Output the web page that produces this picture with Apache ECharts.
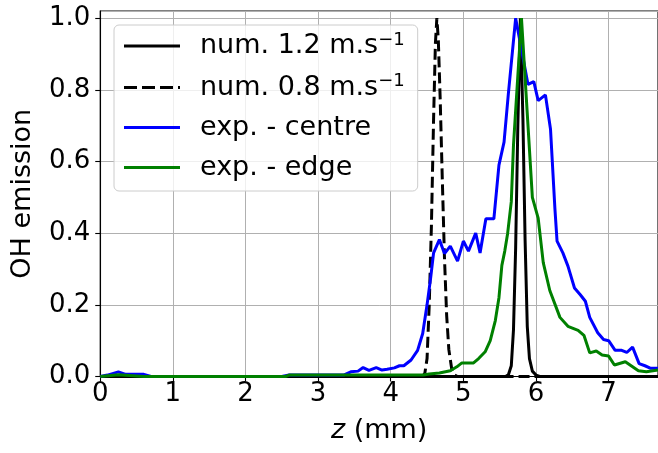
<!DOCTYPE html>
<html>
<head>
<meta charset="utf-8">
<script src="https://cdn.jsdelivr.net/npm/echarts@6/dist/echarts.min.js"></script>
<style>
html,body{margin:0;padding:0;background:#fff;}
#chart{width:658px;height:453px;}
</style>
</head>
<body>
<div id="chart"></div>
<script>
// ---- data ----
const xTicks = [0, 1, 2, 3, 4, 5, 6, 7];
const yTicks = [0.0, 0.2, 0.4, 0.6, 0.8, 1.0];

const num12Z = [0, 5.58, 5.62, 5.66, 5.69, 5.72, 5.75, 5.785, 5.82, 5.85, 5.88, 5.91, 5.95, 6.0, 6.05, 7.68];
const num12V = [0, 0, 0.005, 0.03, 0.13, 0.36, 0.7, 1.0, 0.72, 0.38, 0.14, 0.05, 0.015, 0.004, 0, 0];

const num08Z = [0, 4.44, 4.47, 4.5, 4.53, 4.56, 4.59, 4.615, 4.635, 4.655, 4.68, 4.71, 4.74, 4.77, 4.8, 4.84, 4.88, 4.92, 7.68];
const num08V = [0, 0, 0.01, 0.05, 0.2, 0.42, 0.72, 0.93, 1.0, 0.94, 0.78, 0.55, 0.33, 0.17, 0.075, 0.02, 0.004, 0, 0];

const centreZ = [0, 0.1, 0.25, 0.35, 0.5, 0.6, 0.7, 2.5, 2.6, 3.0, 3.35, 3.45, 3.55, 3.62, 3.7, 3.8, 3.88, 3.95, 4.05, 4.12, 4.18, 4.28, 4.37, 4.44, 4.5, 4.55, 4.59, 4.67, 4.74, 4.82, 4.92, 5.0, 5.07, 5.17, 5.23, 5.31, 5.42, 5.49, 5.56, 5.62, 5.72, 5.89, 5.97, 6.03, 6.13, 6.2, 6.26, 6.29, 6.37, 6.44, 6.53, 6.61, 6.68, 6.74, 6.85, 6.93, 7.0, 7.09, 7.18, 7.25, 7.33, 7.42, 7.5, 7.58, 7.68];
const centreV = [0, 0.004, 0.013, 0.006, 0.006, 0.006, 0, 0, 0.004, 0.004, 0.004, 0.013, 0.015, 0.025, 0.017, 0.025, 0.018, 0.02, 0.024, 0.03, 0.03, 0.046, 0.073, 0.12, 0.2, 0.276, 0.345, 0.382, 0.343, 0.364, 0.322, 0.378, 0.35, 0.4, 0.345, 0.44, 0.44, 0.59, 0.654, 0.79, 1.0, 0.815, 0.823, 0.77, 0.786, 0.69, 0.47, 0.378, 0.345, 0.308, 0.247, 0.228, 0.21, 0.165, 0.122, 0.103, 0.1, 0.073, 0.073, 0.067, 0.082, 0.036, 0.03, 0.023, 0.023];

const edgeZ = [0, 0.25, 0.6, 2.55, 2.6, 4.45, 4.53, 4.67, 4.82, 4.91, 4.98, 5.14, 5.21, 5.3, 5.37, 5.44, 5.49, 5.53, 5.57, 5.61, 5.66, 5.69, 5.8, 5.95, 6.03, 6.1, 6.19, 6.33, 6.44, 6.58, 6.66, 6.74, 6.83, 6.91, 7.0, 7.08, 7.23, 7.41, 7.52, 7.68];
const edgeV = [0, 0.005, 0, 0, 0.004, 0.004, 0.007, 0.01, 0.016, 0.027, 0.038, 0.038, 0.05, 0.069, 0.1, 0.156, 0.22, 0.31, 0.35, 0.4, 0.488, 0.645, 1.0, 0.5, 0.442, 0.318, 0.24, 0.165, 0.14, 0.129, 0.115, 0.066, 0.071, 0.06, 0.057, 0.032, 0.041, 0.016, 0.013, 0.018];

const seriesNames = ['num. 1.2 m.s', 'num. 0.8 m.s', 'exp. - centre', 'exp. - edge'];
const seriesSup = ['\u22121', '\u22121', '', ''];
const xName = ['z', ' (mm)'];
const yName = 'OH emission';

// ---- chart ----
const FONT = 'DejaVu Sans';
const FS = 26;   // tick labels
const FL = 27;   // legend & axis names
const zip = (a, b) => a.map((v, i) => [v, b[i]]);

const SOLID_ICON = 'path://M0,0H56V3H0Z';
const DASH_ICON = 'path://M0,0H13V3H0Z M18,0H31V3H18Z M36,0H49V3H36Z M54,0H56V3H54Z';
const legendIcons = [SOLID_ICON, DASH_ICON, SOLID_ICON, SOLID_ICON];

const chart = echarts.init(document.getElementById('chart'), null, {renderer: 'canvas'});

const mkSeries = (i, z, v, color, type) => ({
  name: seriesNames[i],
  type: 'line',
  data: zip(z, v),
  symbol: 'none',
  showSymbol: false,
  smooth: false,
  animation: false,
  clip: true,
  lineStyle: {color: color, width: 3, type: type},
  itemStyle: {color: color},
  emphasis: {disabled: true}
});

const option = {
  animation: false,
  backgroundColor: '#fff',
  grid: {left: 100, top: 11, right: -2, bottom: 76.5, show: true, borderColor: '#000', borderWidth: 1.1, backgroundColor: 'transparent'},
  legend: {
    left: 114, top: 25, orient: 'vertical',
    itemWidth: 56, itemHeight: 3, itemGap: 13,
    padding: [6, 13, 10, 10],
    backgroundColor: 'rgba(255,255,255,0.8)',
    borderColor: '#cccccc', borderWidth: 1, borderRadius: 5,
    itemStyle: {borderWidth: 0},
    data: seriesNames.map((n, i) => ({name: n, icon: legendIcons[i]})),
    formatter: name => {
      const i = seriesNames.indexOf(name);
      return '{t|' + name + '}' + (seriesSup[i] ? '{s|' + seriesSup[i] + '}' : '');
    },
    textStyle: {
      fontFamily: FONT, fontSize: FL, color: '#000', padding: [0, 0, 0, 15],
      rich: {
        t: {fontFamily: FONT, fontSize: FL, color: '#000', lineHeight: 30},
        s: {fontFamily: FONT, fontSize: 18, color: '#000', lineHeight: 18, verticalAlign: 'top'}
      }
    }
  },
  xAxis: {
    type: 'value', min: 0, max: 7.68, interval: 1,
    name: '{i|' + xName[0] + '}' + xName[1],
    nameLocation: 'middle', nameGap: 39,
    nameTextStyle: {fontFamily: FONT, fontSize: FL, color: '#000', lineHeight: 30,
      rich: {i: {fontFamily: FONT, fontSize: FL, fontStyle: 'italic', color: '#000', lineHeight: 30}}},
    axisLine: {show: true, onZero: false, lineStyle: {color: '#000', width: 1.1}},
    axisTick: {show: true, inside: false, length: 5, lineStyle: {color: '#000', width: 1.1}},
    axisLabel: {fontFamily: FONT, fontSize: FS, color: '#000', margin: 5, showMaxLabel: false,
      formatter: v => (xTicks.indexOf(v) >= 0 ? String(v) : '')},
    splitLine: {show: true, lineStyle: {color: '#b0b0b0', width: 1}}
  },
  yAxis: {
    type: 'value', min: 0, max: 1.02, interval: 0.2,
    name: yName, nameLocation: 'middle', nameGap: 61, nameRotate: 90,
    nameTextStyle: {fontFamily: FONT, fontSize: FL, color: '#000', lineHeight: 30},
    axisLine: {show: true, onZero: false, lineStyle: {color: '#000', width: 1.1}},
    axisTick: {show: true, inside: false, length: 5, lineStyle: {color: '#000', width: 1.1}},
    axisLabel: {fontFamily: FONT, fontSize: FS, color: '#000', margin: 10, showMaxLabel: false,
      formatter: v => {
        const t = yTicks.find(y => Math.abs(y - v) < 1e-6);
        return t === undefined ? '' : t.toFixed(1);
      }},
    splitLine: {show: true, lineStyle: {color: '#b0b0b0', width: 1}}
  },
  series: [
    mkSeries(0, num12Z, num12V, '#000000', 'solid'),
    mkSeries(1, num08Z, num08V, '#000000', [11, 5]),
    mkSeries(2, centreZ, centreV, '#0000ff', 'solid'),
    mkSeries(3, edgeZ, edgeV, '#008000', 'solid')
  ]
};
chart.setOption(option);
</script>
</body>
</html>
